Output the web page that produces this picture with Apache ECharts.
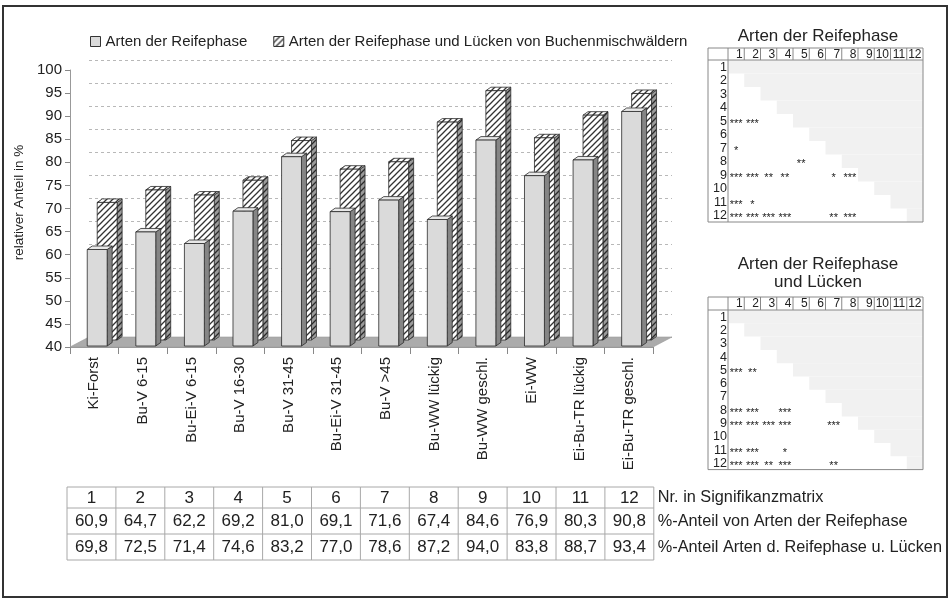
<!DOCTYPE html>
<html>
<head>
<meta charset="utf-8">
<script src="https://cdn.jsdelivr.net/npm/echarts@6/dist/echarts.min.js"></script>
<style>
  html, body { margin: 0; padding: 0; background: #fff; }
  #chart { width: 950px; height: 599px; }
</style>
</head>
<body>
<div id="chart"></div>
<script>
// Stand types (x axis) and the share of maturity-phase species per type
const categories = ['Ki-Forst', 'Bu-V 6-15', 'Bu-Ei-V 6-15', 'Bu-V 16-30', 'Bu-V 31-45', 'Bu-Ei-V 31-45',
  'Bu-V >45', 'Bu-WW lückig', 'Bu-WW geschl.', 'Ei-WW', 'Ei-Bu-TR lückig', 'Ei-Bu-TR geschl.'];
const reifephase = [60.9, 64.7, 62.2, 69.2, 81.0, 69.1, 71.6, 67.4, 84.6, 76.9, 80.3, 90.8];
const reifeLuecken = [69.8, 72.5, 71.4, 74.6, 83.2, 77.0, 78.6, 87.2, 94.0, 83.8, 88.7, 93.4];

const seriesNames = ['Arten der Reifephase', 'Arten der Reifephase und Lücken von Buchenmischwäldern'];
const yMin = 40, yMax = 100, yStep = 5;

const tableRowLabels = ['Nr. in Signifikanzmatrix', '%-Anteil von Arten der Reifephase', '%-Anteil Arten d. Reifephase u. Lücken'];

// Significance matrices: [row, column, stars]
const sigReife = [[5,1,'***'],[5,2,'***'],[7,1,'*'],[8,5,'**'],
  [9,1,'***'],[9,2,'***'],[9,3,'**'],[9,4,'**'],[9,7,'*'],[9,8,'***'],
  [11,1,'***'],[11,2,'*'],
  [12,1,'***'],[12,2,'***'],[12,3,'***'],[12,4,'***'],[12,7,'**'],[12,8,'***']];
const sigLuecken = [[5,1,'***'],[5,2,'**'],
  [8,1,'***'],[8,2,'***'],[8,4,'***'],
  [9,1,'***'],[9,2,'***'],[9,3,'***'],[9,4,'***'],[9,7,'***'],
  [11,1,'***'],[11,2,'***'],[11,4,'*'],
  [12,1,'***'],[12,2,'***'],[12,3,'**'],[12,4,'***'],[12,7,'**']];
const matrixTitles = [['Arten der Reifephase'], ['Arten der Reifephase', 'und Lücken']];

const FONT = '"Liberation Sans", Arial, sans-serif';
const INK = '#222';

// diagonal hatching used for the second series
function hatch(bg, fg) {
  const c = document.createElement('canvas');
  c.width = 6; c.height = 6;
  const ctx = c.getContext('2d');
  ctx.fillStyle = bg; ctx.fillRect(0, 0, 6, 6);
  ctx.strokeStyle = fg; ctx.lineWidth = 1.3;
  ctx.beginPath();
  ctx.moveTo(0, 6); ctx.lineTo(6, 0);
  ctx.moveTo(-3, 3); ctx.lineTo(3, -3);
  ctx.moveTo(3, 9); ctx.lineTo(9, 3);
  ctx.stroke();
  return { image: c, repeat: 'repeat' };
}
const hatchFront = hatch('#ffffff', '#333333');
const hatchSide = hatch('#9a9a9a', '#2a2a2a');

const styles = {
  front: { face: '#dadada', side: '#858585', top: '#e8e8e8', shift: 0.06, lift: -1 },
  back:  { face: hatchFront, side: hatchSide, top: hatchFront, shift: 0.265, lift: -7 }
};

// 3D-looking column: front face, right side and top face
function bar3d(kind) {
  const s = styles[kind];
  return function (params, api) {
    const idx = api.value(0), v = api.value(1);
    const top = api.coord([idx, v]);
    const base = api.coord([idx, yMin]);
    const bw = api.size([1, 0])[0];
    const w = bw * 0.41;
    const cx = top[0] + bw * s.shift;
    const x0 = cx - w / 2, x1 = cx + w / 2;
    const yT = top[1] + s.lift, yB = base[1] + s.lift;
    const dx = 5, dy = -3.5;
    const line = { stroke: '#2b2b2b', lineWidth: 0.8 };
    return {
      type: 'group',
      children: [
        { type: 'polygon', shape: { points: [[x1, yB], [x1 + dx, yB + dy], [x1 + dx, yT + dy], [x1, yT]] },
          style: Object.assign({ fill: s.side }, line) },
        { type: 'polygon', shape: { points: [[x0, yT], [x1, yT], [x1 + dx, yT + dy], [x0 + dx, yT + dy]] },
          style: Object.assign({ fill: s.top }, line) },
        { type: 'rect', shape: { x: x0, y: yT, width: w, height: yB - yT },
          style: Object.assign({ fill: s.face }, line) }
      ]
    };
  };
}

// floor of the plot area
function floor(params, api) {
  const bw = api.size([1, 0])[0];
  const l = api.coord([0, yMin])[0] - bw / 2;
  const r = api.coord([categories.length - 1, yMin])[0] + bw / 2;
  const y = api.coord([0, yMin])[1];
  return {
    type: 'polygon',
    shape: { points: [[l, y], [r, y], [r + 19, y - 10], [l + 19, y - 10]] },
    style: { fill: '#ababab', stroke: '#9a9a9a', lineWidth: 0.6 }
  };
}

const fmt = v => v.toFixed(1).replace('.', ',');

// ---- frame and value table under the chart ----
const graphics = [];
graphics.push({ type: 'rect', shape: { x: 3, y: 6, width: 944, height: 591 },
  style: { fill: 'none', stroke: '#333', lineWidth: 2 }, z: 10 });

const tX = 67, tColW = 48.9, tRows = [487, 508, 534, 560];
const tRight = tX + tColW * categories.length;
const tableRows = [categories.map((c, i) => String(i + 1)), reifephase.map(fmt), reifeLuecken.map(fmt)];
for (let r = 0; r < tRows.length; r++) {
  graphics.push({ type: 'line', shape: { x1: tX, y1: tRows[r], x2: tRight, y2: tRows[r] },
    style: { stroke: '#a8a8a8', lineWidth: 1 } });
}
for (let c = 0; c <= categories.length; c++) {
  graphics.push({ type: 'line', shape: { x1: tX + c * tColW, y1: tRows[0], x2: tX + c * tColW, y2: tRows[3] },
    style: { stroke: '#a8a8a8', lineWidth: 1 } });
}
tableRows.forEach((row, r) => {
  const yc = (tRows[r] + tRows[r + 1]) / 2 + 0.5;
  row.forEach((txt, c) => {
    graphics.push({ type: 'text', x: tX + (c + 0.5) * tColW, y: yc,
      style: { text: txt, font: '17px ' + FONT, fill: INK, align: 'center', verticalAlign: 'middle' } });
  });
  graphics.push({ type: 'text', x: tRight + 4, y: yc,
    style: { text: tableRowLabels[r], font: '16.3px ' + FONT, fill: INK, align: 'left', verticalAlign: 'middle' } });
});

// ---- significance matrices ----
function matrix(titleLines, titleY, top, headH, rowH, stars) {
  const x = 708, labelW = 20, colW = 16.25, n = categories.length;
  const right = x + labelW + colW * n;
  const bottom = top + headH + rowH * n;
  titleLines.forEach((t, i) => {
    graphics.push({ type: 'text', x: 818, y: titleY + i * 18,
      style: { text: t, font: '17px ' + FONT, fill: INK, align: 'center', verticalAlign: 'middle' } });
  });
  // shaded upper triangle
  for (let r = 1; r <= n; r++) {
    const y0 = top + headH + (r - 1) * rowH;
    graphics.push({ type: 'rect', shape: { x: x + labelW + (r - 1) * colW, y: y0, width: (n - r + 1) * colW, height: rowH },
      style: { fill: '#f1f1f1' } });
  }
  graphics.push({ type: 'rect', shape: { x: x, y: top, width: right - x, height: bottom - top },
    style: { fill: 'none', stroke: '#888', lineWidth: 1 } });
  graphics.push({ type: 'line', shape: { x1: x, y1: top + headH, x2: right, y2: top + headH },
    style: { stroke: '#888', lineWidth: 1 } });
  graphics.push({ type: 'line', shape: { x1: x + labelW, y1: top, x2: x + labelW, y2: bottom },
    style: { stroke: '#888', lineWidth: 1 } });
  for (let c = 1; c <= n; c++) {
    const xr = x + labelW + c * colW;
    if (c < n) graphics.push({ type: 'line', shape: { x1: xr, y1: top, x2: xr, y2: top + headH },
      style: { stroke: '#888', lineWidth: 1 } });
    graphics.push({ type: 'text', x: xr - 1.5, y: top + headH / 2 + 0.5,
      style: { text: String(c), font: '12px ' + FONT, fill: INK, align: 'right', verticalAlign: 'middle' } });
  }
  for (let r = 1; r <= n; r++) {
    graphics.push({ type: 'text', x: x + labelW - 1, y: top + headH + (r - 0.5) * rowH + 0.5,
      style: { text: String(r), font: '12.5px ' + FONT, fill: INK, align: 'right', verticalAlign: 'middle' } });
  }
  stars.forEach(([r, c, s]) => {
    graphics.push({ type: 'text', x: x + labelW + (c - 0.5) * colW, y: top + headH + (r - 0.5) * rowH + 3,
      style: { text: s, font: '11px ' + FONT, fill: INK, align: 'center', verticalAlign: 'middle' } });
  });
}
matrix(matrixTitles[0], 36, 48, 12, 13.5, sigReife);
matrix(matrixTitles[1], 264, 297, 13, 13.3, sigLuecken);

const chart = echarts.init(document.getElementById('chart'), null, { renderer: 'canvas' });
const option = {
  backgroundColor: '#fff',
  animation: false,
  textStyle: { fontFamily: FONT },
  legend: {
    left: 85, top: 29, itemWidth: 10, itemHeight: 10, itemGap: 26, icon: 'rect',
    textStyle: { fontSize: 15, color: INK, fontFamily: FONT },
    data: [
      { name: seriesNames[0], itemStyle: { color: '#dadada', borderColor: '#333', borderWidth: 1 } },
      { name: seriesNames[1], itemStyle: { color: hatchFront, borderColor: '#333', borderWidth: 1 } }
    ]
  },
  grid: [
    { left: 70, top: 70, width: 583, height: 277 },   // front plane: axes and bars
    { left: 89, top: 60, width: 583, height: 277 }    // back wall: gridlines
  ],
  xAxis: [
    { type: 'category', gridIndex: 0, data: categories,
      axisLine: { show: true, lineStyle: { color: '#999' } },
      axisTick: { show: true, length: 7, lineStyle: { color: '#888' } },
      axisLabel: { interval: 0, rotate: 90, margin: 10, fontSize: 15, color: INK, fontFamily: FONT } },
    { type: 'category', gridIndex: 1, data: categories, show: false }
  ],
  yAxis: [
    { type: 'value', gridIndex: 0, min: yMin, max: yMax, interval: yStep,
      name: 'relativer Anteil in %', nameLocation: 'middle', nameGap: 44,
      nameTextStyle: { fontSize: 13.5, color: INK, fontFamily: FONT, padding: [0, 0, 0, 12] },
      axisLine: { show: true, lineStyle: { color: '#999' } },
      axisTick: { show: true, length: 5, lineStyle: { color: '#888' } },
      axisLabel: { fontSize: 15, color: INK, margin: 8, fontFamily: FONT },
      splitLine: { show: false } },
    { type: 'value', gridIndex: 1, min: yMin, max: yMax, interval: yStep,
      axisLine: { show: false }, axisTick: { show: false }, axisLabel: { show: false },
      splitLine: { show: true, lineStyle: { color: '#b8b8b8', type: [3, 3], width: 1 } } }
  ],
  series: [
    { type: 'custom', name: 'floor', xAxisIndex: 0, yAxisIndex: 0, data: [[0, yMin]],
      renderItem: floor, encode: { x: 0, y: 1 }, silent: true, z: 1 },
    { type: 'custom', name: seriesNames[1], xAxisIndex: 0, yAxisIndex: 0,
      data: reifeLuecken.map((v, i) => [i, v]), encode: { x: 0, y: 1 },
      renderItem: bar3d('back'), itemStyle: { color: hatchFront }, z: 2 },
    { type: 'custom', name: seriesNames[0], xAxisIndex: 0, yAxisIndex: 0,
      data: reifephase.map((v, i) => [i, v]), encode: { x: 0, y: 1 },
      renderItem: bar3d('front'), itemStyle: { color: '#dadada' }, z: 3 }
  ],
  graphic: { elements: graphics }
};
chart.setOption(option);
</script>
</body>
</html>
